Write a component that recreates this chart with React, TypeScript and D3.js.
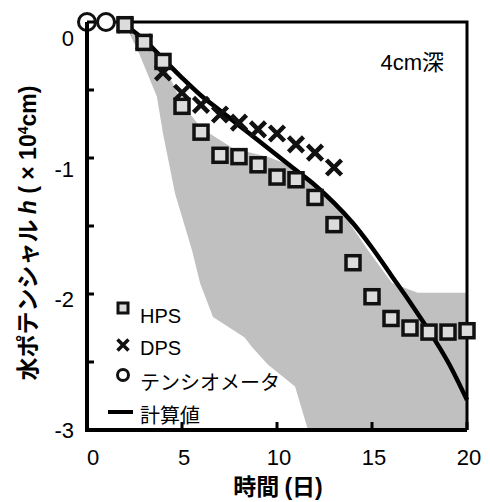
import React from "react";
import * as d3 from "d3";

// days and water potential h (x10^4 cm)
const hpsDays = [2, 3, 4, 5, 6, 7, 8, 9, 10, 11, 12, 13, 14, 15, 16, 17, 18, 19, 20];
const hpsValues = [-0.02, -0.15, -0.29, -0.62, -0.81, -0.98, -0.99, -1.05, -1.14, -1.16, -1.29, -1.49, -1.77, -2.02, -2.18, -2.25, -2.28, -2.28, -2.27];

const dpsDays = [2, 3, 4, 5, 6, 7, 8, 9, 10, 11, 12, 13];
const dpsValues = [-0.02, -0.15, -0.37, -0.52, -0.61, -0.68, -0.74, -0.79, -0.82, -0.9, -0.96, -1.07];

const tensioDays = [0, 1];
const tensioValues = [0, 0];

const calcDays = [2, 3, 4, 5, 6, 7, 8, 9, 10, 11, 12, 13, 14, 15, 16, 17, 18, 19, 20];
const calcValues = [-0.02, -0.13, -0.27, -0.41, -0.54, -0.65, -0.76, -0.87, -0.98, -1.09, -1.2, -1.33, -1.48, -1.66, -1.86, -2.06, -2.27, -2.5, -2.78];

// gray range band: upper edge left->right, lower edge right->left
const bandUpperDays = [2, 3, 4, 5, 6, 7.7, 9.5, 11, 12.2, 13, 14.8, 16.05, 17.4, 20, 20];
const bandUpperValues = [-0.02, -0.14, -0.3, -0.6, -0.78, -0.93, -0.99, -1.07, -1.21, -1.31, -1.68, -1.92, -1.99, -1.99, -3];
const bandLowerDays = [11.63, 10.95, 9.53, 8.68, 8.3, 6.63, 5.95, 5.53, 4.63, 4.0, 3.68, 2.68, 2];
const bandLowerValues = [-3, -2.68, -2.52, -2.39, -2.32, -2.17, -1.92, -1.68, -1.26, -0.82, -0.55, -0.21, -0.02];

const xTicks = [0, 5, 10, 15, 20];
const yTicks = [0, -1, -2, -3];
const yMinorTicks = [-0.5, -1.5, -2.5];

const latin = "'Liberation Sans', Arial, 'Noto Sans CJK JP', sans-serif";
const jp = "'Noto Sans CJK JP', 'Liberation Sans', sans-serif";

export default function App() {
  const width = 490;
  const height = 502;
  const margin = { top: 22, right: 23, bottom: 72, left: 87 };

  const x = d3.scaleLinear().domain([0, 20]).range([margin.left, width - margin.right]);
  const y = d3.scaleLinear().domain([-3, 0]).range([height - margin.bottom, margin.top]);
  // tick labels in the original sit slightly lower near the top
  const yLabel = d3.scaleLinear().domain([-3, 0]).range([y(-3), y(0) + 16]);

  const band = [
    ...bandUpperDays.map((d, i) => [x(d), y(bandUpperValues[i])] as [number, number]),
    ...bandLowerDays.map((d, i) => [x(d), y(bandLowerValues[i])] as [number, number]),
  ];
  const bandPath = d3.line()(band) + "Z";

  const calcLine = d3
    .line<number>()
    .x((d, i) => x(calcDays[i]))
    .y((d) => y(d))
    .curve(d3.curveCatmullRom)(calcValues);

  const sq = 14;

  const cross = (cx: number, cy: number, s: number) =>
    `M${cx - s},${cy - s}L${cx + s},${cy + s}M${cx - s},${cy + s}L${cx + s},${cy - s}`;

  const x0 = x.range()[0];
  const x1 = x.range()[1];
  const y0 = y.range()[0];
  const y1 = y.range()[1];

  return (
    <svg width={width} height={height} style={{ position: "absolute", left: 0, top: 0, background: "#fff" }}>
      <path d={bandPath} fill="#c0c0c0" />

      {/* frame */}
      <path d={`M${x0},${y1}L${x1},${y1}L${x1},${y0}`} fill="none" stroke="#000" strokeWidth={3} />

      <path d={calcLine ?? ""} fill="none" stroke="#000" strokeWidth={4.5} />

      {dpsDays.map((d, i) => (
        <path key={"d" + i} d={cross(x(d), y(dpsValues[i]), 7.5)} stroke="#111" strokeWidth={4.5} />
      ))}

      {hpsDays.map((d, i) => (
        <rect
          key={"h" + i}
          x={x(d) - sq / 2}
          y={y(hpsValues[i]) - sq / 2}
          width={sq}
          height={sq}
          fill="#dcdcdc"
          stroke="#111"
          strokeWidth={3.5}
        />
      ))}

      {tensioDays.map((d, i) => (
        <circle key={"t" + i} cx={x(d)} cy={y(tensioValues[i])} r={8.5} fill="#fff" stroke="#111" strokeWidth={3} />
      ))}

      {/* axes */}
      <path d={`M${x0},${y1}L${x0},${y0}L${x1},${y0}`} fill="none" stroke="#000" strokeWidth={4} />
      {[...yTicks, ...yMinorTicks].map((t) => (
        <line key={"yt" + t} x1={x0} x2={x0 + 7} y1={y(t)} y2={y(t)} stroke="#000" strokeWidth={3} />
      ))}
      {xTicks.map((t) => (
        <line key={"xt" + t} x1={x(t)} x2={x(t)} y1={y0} y2={y0 - 8} stroke="#000" strokeWidth={3} />
      ))}
      {yTicks.map((t) => (
        <text key={"yl" + t} x={x0 - 13} y={yLabel(t)} dy="0.36em" textAnchor="end" fontFamily={latin} fontSize={22}>
          {t}
        </text>
      ))}
      {xTicks.map((t) => (
        <text key={"xl" + t} x={x(t) + (t === 0 ? 6 : 2)} y={y0 + 35} textAnchor="middle" fontFamily={latin} fontSize={22}>
          {t}
        </text>
      ))}

      <text x={(x0 + x1) / 2 + 1} y={495} textAnchor="middle" fontFamily={jp} fontSize={23} fontWeight="bold">
        時間 <tspan fontFamily={latin}>(</tspan>日<tspan fontFamily={latin}>)</tspan>
      </text>

      <text
        transform={`translate(36,${(y0 + y1) / 2 + 7}) rotate(-90)`}
        textAnchor="middle"
        fontFamily={jp}
        fontSize={23}
        fontWeight="bold"
      >
        水ポテンシャル{" "}
        <tspan fontFamily={latin} fontStyle="italic">h</tspan>
        <tspan fontFamily={latin}> ( × 10</tspan>
        <tspan fontFamily={latin} fontSize={14} dy={-8}>4</tspan>
        <tspan fontFamily={latin} dy={8}>cm)</tspan>
      </text>

      <text x={444} y={70} textAnchor="end" fontFamily={latin} fontSize={22}>
        4cm<tspan fontFamily={jp}>深</tspan>
      </text>

      {/* legend */}
      <rect x={123 - 5} y={308 - 5} width={10} height={10} fill="#dcdcdc" stroke="#111" strokeWidth={3} />
      <text x={140} y={323} fontFamily={latin} fontSize={20}>HPS</text>
      <path d={cross(123, 345, 5.5)} stroke="#111" strokeWidth={3.5} />
      <text x={140} y={355} fontFamily={latin} fontSize={20}>DPS</text>
      <circle cx={123} cy={375} r={5.5} fill="#fff" stroke="#111" strokeWidth={3} />
      <text x={140} y={390} fontFamily={jp} fontSize={20}>テンシオメータ</text>
      <line x1={108} x2={133} y1={412} y2={412} stroke="#000" strokeWidth={4} />
      <text x={140} y={423} fontFamily={jp} fontSize={20}>計算値</text>
    </svg>
  );
}
